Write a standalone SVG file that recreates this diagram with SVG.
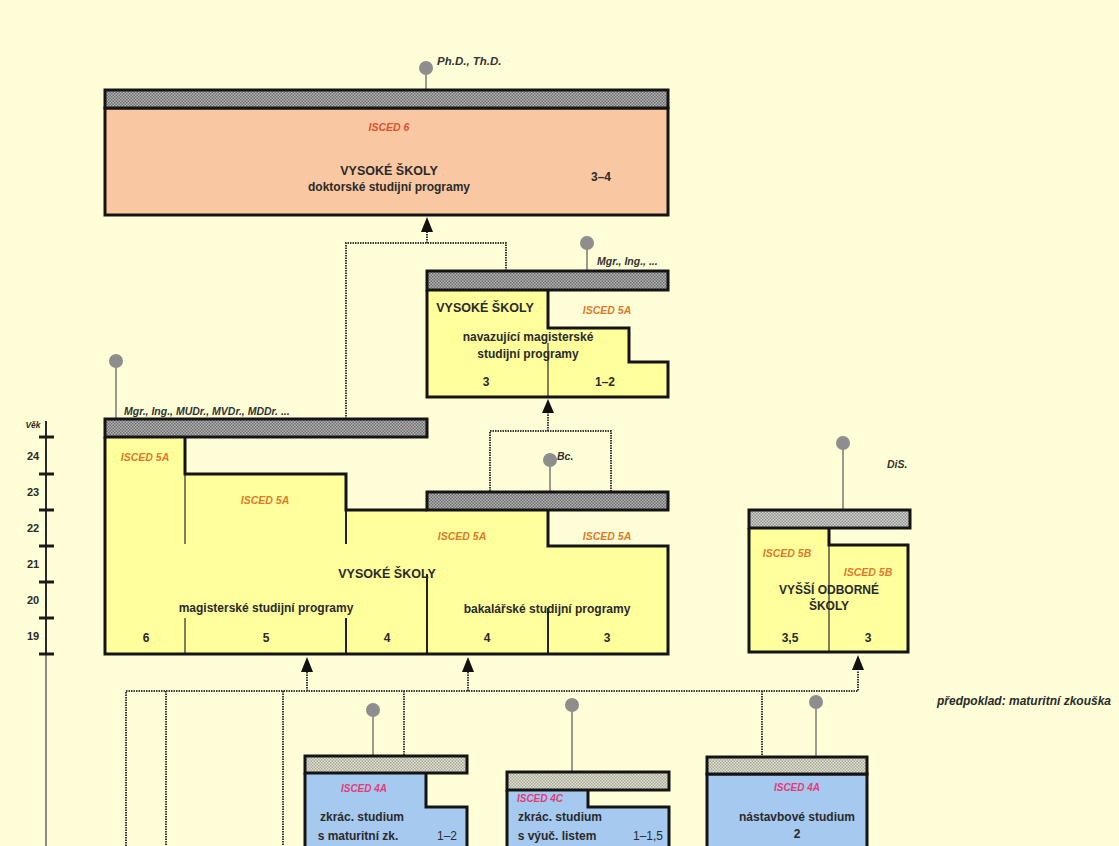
<svg xmlns="http://www.w3.org/2000/svg" width="1119" height="846" viewBox="0 0 1119 846">
<defs>
<pattern id="hatchDark" width="3" height="3" patternUnits="userSpaceOnUse"><rect width="3" height="3" fill="#b4b4b4"/><rect width="1.5" height="1.5" fill="#6e6e6e"/><rect x="1.5" y="1.5" width="1.5" height="1.5" fill="#6e6e6e"/></pattern>
<pattern id="hatchLight" width="3" height="3" patternUnits="userSpaceOnUse"><rect width="3" height="3" fill="#e2e2d2"/><rect width="1.5" height="1.5" fill="#a8a89a"/><rect x="1.5" y="1.5" width="1.5" height="1.5" fill="#a8a89a"/></pattern>
<pattern id="hatchMid" width="3" height="3" patternUnits="userSpaceOnUse"><rect width="3" height="3" fill="#d6d6d0"/><rect width="1.5" height="1.5" fill="#8e8e8e"/><rect x="1.5" y="1.5" width="1.5" height="1.5" fill="#8e8e8e"/></pattern>
</defs>
<style>
text{font-family:"Liberation Sans",Arial,sans-serif;font-weight:bold;fill:#2a2a2a}
.t{font-size:12px;text-anchor:middle}
.h{font-size:12.5px;text-anchor:middle}
.n{font-size:12px;text-anchor:middle}
.is{font-size:10.5px;font-style:italic;text-anchor:middle;fill:#dc7a2c}
.is6{font-size:10.5px;font-style:italic;text-anchor:middle;fill:#e0502c}
.is4{font-size:10px;font-style:italic;text-anchor:middle;fill:#e23c78}
.deg{font-size:10.5px;font-style:italic;fill:#333}
.age{font-size:11px;text-anchor:middle}
.bar{stroke:#141414;stroke-width:3}
.edge{fill:none;stroke:#141414;stroke-width:3;stroke-linejoin:miter}
.thin{fill:none;stroke:#3a3a3a;stroke-width:1.3}
.mid{fill:none;stroke:#222;stroke-width:2}
.dot{fill:none;stroke:#3a3a3a;stroke-width:2;stroke-dasharray:1.5 1}
.stem{stroke:#9a9a90;stroke-width:2}
.pin{fill:#8e8e8e}
.arr{fill:#111}
</style>
<rect width="1119" height="846" fill="#fffed6"/>

<g id="connectors">
<path class="dot" d="M346,419 V243 H506 V271"/>
<path class="dot" d="M427,243 V232"/>
<polygon class="arr" points="427,217 421,232 433,232"/>
<path class="dot" d="M490,491 V431 H611 V491"/>
<path class="dot" d="M548,431 V413"/>
<polygon class="arr" points="548,399 542,413 554,413"/>
<path class="dot" d="M126,846 V691 H858 V671"/>
<path class="dot" d="M166,691 V846"/>
<path class="dot" d="M283,691 V846"/>
<path class="dot" d="M404,691 V755"/>
<path class="dot" d="M762,691 V757"/>
<path class="dot" d="M307,691 V672"/>
<path class="dot" d="M468,691 V672"/>
<polygon class="arr" points="307,657 301,672 313,672"/>
<polygon class="arr" points="468,657 462,672 474,672"/>
<polygon class="arr" points="858,655 852,670 864,670"/>
</g>

<g id="age-axis">
<line x1="46" y1="421" x2="46" y2="654" stroke="#2a2a2a" stroke-width="2"/>
<line x1="46" y1="654" x2="46" y2="846" stroke="#8c8c84" stroke-width="2"/>
<g stroke="#1a1a1a" stroke-width="3">
<line x1="39" y1="437" x2="54" y2="437"/><line x1="39" y1="474" x2="54" y2="474"/>
<line x1="39" y1="510" x2="54" y2="510"/><line x1="39" y1="546" x2="54" y2="546"/>
<line x1="39" y1="582" x2="54" y2="582"/><line x1="39" y1="618" x2="54" y2="618"/>
<line x1="39" y1="654" x2="54" y2="654"/>
</g>
<text x="33" y="428" style="font-size:8.5px;font-style:italic;text-anchor:middle">Věk</text>
<text class="age" x="33" y="460">24</text>
<text class="age" x="33" y="496">23</text>
<text class="age" x="33" y="532">22</text>
<text class="age" x="33" y="568">21</text>
<text class="age" x="33" y="604">20</text>
<text class="age" x="33" y="640">19</text>
</g>

<g id="isced6">
<line class="stem" x1="426" y1="72" x2="426" y2="89"/>
<circle class="pin" cx="426" cy="68" r="7"/>
<text class="deg" x="437" y="65" style="font-size:11.5px">Ph.D., Th.D.</text>
<rect x="105" y="108" width="563" height="107" fill="#f9c8a2" class="bar"/>
<rect x="105" y="90" width="563" height="18" fill="url(#hatchDark)" class="bar"/>
<text class="is6" x="389" y="131">ISCED 6</text>
<text class="h" x="389" y="175">VYSOKÉ ŠKOLY</text>
<text class="t" x="389" y="191">doktorské studijní programy</text>
<text class="n" x="601" y="181">3–4</text>
</g>

<g id="navazujici">
<line class="stem" x1="587" y1="247" x2="587" y2="271"/>
<circle class="pin" cx="587" cy="243" r="7"/>
<text class="deg" x="597" y="265">Mgr., Ing., ...</text>
<polygon points="427,290 548,290 548,328 629,328 629,362 668,362 668,397 427,397" fill="#ffff9c"/>
<path class="thin" d="M548,343 V397"/>
<path class="edge" d="M548,290 V328 H629 V362 H668 V397 H427 V290"/>
<rect x="427" y="271" width="241" height="19" fill="url(#hatchDark)" class="bar"/>
<text class="h" x="485" y="312">VYSOKÉ ŠKOLY</text>
<text class="is" x="607" y="314">ISCED 5A</text>
<text class="t" x="528" y="341">navazující magisterské</text>
<text class="t" x="528" y="358">studijní programy</text>
<text class="n" x="486" y="386">3</text>
<text class="n" x="605" y="386">1–2</text>
</g>

<g id="vysoke-skoly">
<line class="stem" x1="116" y1="366" x2="116" y2="419"/>
<circle class="pin" cx="116" cy="361" r="7"/>
<text class="deg" x="124" y="415">Mgr., Ing., MUDr., MVDr., MDDr. ...</text>
<line class="stem" x1="550" y1="464" x2="550" y2="492"/>
<circle class="pin" cx="550" cy="460" r="7"/>
<text class="deg" x="557" y="460">Bc.</text>
<polygon points="105,437 185,437 185,474 346,474 346,510 548,510 548,546 668,546 668,654 105,654" fill="#ffff9c"/>
<path class="thin" d="M185,474 V544 M185,618 V654"/>
<path class="mid" d="M346,510 V544 M346,618 V654 M427,574 V654 M548,608 V654"/>
<path class="edge" d="M185,437 V474 H346 V510 H427 M548,510 V546 H668 V654 H105 V437"/>
<rect x="105" y="419" width="322" height="18" fill="url(#hatchDark)" class="bar"/>
<rect x="427" y="492" width="241" height="18" fill="url(#hatchDark)" class="bar"/>
<text class="is" x="145" y="461">ISCED 5A</text>
<text class="is" x="265" y="504">ISCED 5A</text>
<text class="is" x="462" y="540">ISCED 5A</text>
<text class="is" x="607" y="540">ISCED 5A</text>
<text class="h" x="387" y="578">VYSOKÉ ŠKOLY</text>
<text class="t" x="266" y="612">magisterské studijní programy</text>
<text class="t" x="547" y="613">bakalářské studijní programy</text>
<text class="n" x="146" y="642">6</text>
<text class="n" x="266" y="642">5</text>
<text class="n" x="387" y="642">4</text>
<text class="n" x="487" y="642">4</text>
<text class="n" x="607" y="642">3</text>
</g>

<g id="vyssi-odborne">
<line class="stem" x1="843" y1="447" x2="843" y2="510"/>
<circle class="pin" cx="843" cy="443" r="7"/>
<text class="deg" x="887" y="468">DiS.</text>
<polygon points="749,528 829,528 829,545 908,545 908,652 749,652" fill="#ffff9c"/>
<path class="thin" d="M829,545 V652"/>
<path class="edge" d="M829,528 V545 H908 V652 H749 V528"/>
<rect x="749" y="510" width="161" height="18" fill="url(#hatchMid)" class="bar"/>
<text class="is" x="787" y="557">ISCED 5B</text>
<text class="is" x="868" y="576">ISCED 5B</text>
<text class="t" x="829" y="594">VYŠŠÍ ODBORNÉ</text>
<text class="t" x="829" y="610">ŠKOLY</text>
<text class="n" x="790" y="642">3,5</text>
<text class="n" x="868" y="642">3</text>
</g>

<text id="predpoklad" x="1024" y="705" style="font-size:12px;font-style:italic;text-anchor:middle">předpoklad: maturitní zkouška</text>

<g id="zkrac-maturitni">
<line class="stem" x1="373" y1="714" x2="373" y2="756"/>
<circle class="pin" cx="373" cy="710" r="7"/>
<polygon points="305,773 426,773 426,807 467,807 467,850 305,850" fill="#a6c9f0"/>
<path class="edge" d="M426,773 V807 H467 V850 M305,773 V850"/>
<rect x="305" y="756" width="162" height="17" fill="url(#hatchLight)" class="bar"/>
<text class="is4" x="364" y="792">ISCED 4A</text>
<text class="t" x="362" y="821">zkrác. studium</text>
<text class="t" x="358" y="840">s maturitní zk.</text>
<text class="n" x="447" y="840" style="font-weight:normal">1–2</text>
</g>

<g id="zkrac-vyucni">
<line class="stem" x1="572" y1="709" x2="572" y2="772"/>
<circle class="pin" cx="572" cy="705" r="7"/>
<polygon points="507,790 588,790 588,807 669,807 669,850 507,850" fill="#a6c9f0"/>
<path class="edge" d="M588,790 V807 H669 V850 M507,790 V850"/>
<rect x="507" y="772" width="162" height="18" fill="url(#hatchLight)" class="bar"/>
<text class="is4" x="540" y="802">ISCED 4C</text>
<text class="t" x="560" y="821">zkrác. studium</text>
<text class="t" x="557" y="840">s výuč. listem</text>
<text class="n" x="648" y="840" style="font-weight:normal">1–1,5</text>
</g>

<g id="nastavbove">
<line class="stem" x1="816" y1="706" x2="816" y2="757"/>
<circle class="pin" cx="816" cy="702" r="7"/>
<rect x="707" y="774" width="160" height="80" fill="#a6c9f0" class="bar"/>
<rect x="707" y="757" width="160" height="17" fill="url(#hatchLight)" class="bar"/>
<text class="is4" x="797" y="791">ISCED 4A</text>
<text class="t" x="797" y="821">nástavbové studium</text>
<text class="n" x="797" y="838">2</text>
</g>
</svg>
